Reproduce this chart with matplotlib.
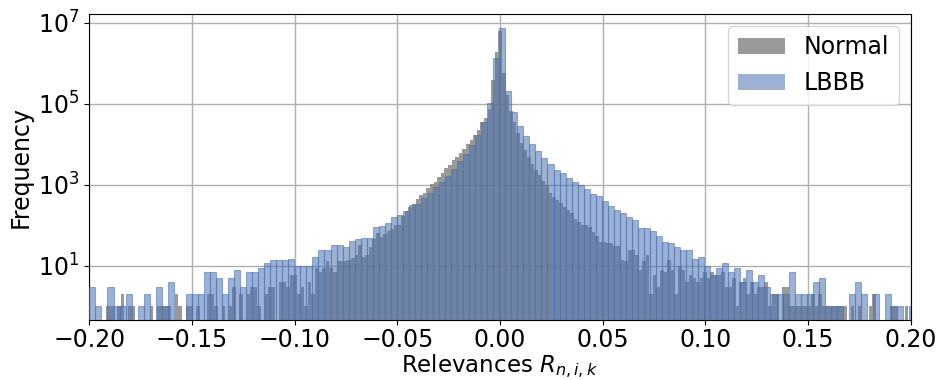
import numpy as np
import matplotlib
matplotlib.use("Agg")
import matplotlib.pyplot as plt

# bin layout: Normal uses narrower bins than LBBB
normal_start, normal_width = -0.2003, 0.00175
lbbb_start, lbbb_width = -0.19985, 0.002934

normal_counts = [
    0, 0, 0, 0, 0, 1, 1, 0, 1, 2, 0, 1, 1, 0, 0, 0, 0, 1, 0, 1,
    1, 1, 1, 0, 2, 1, 0, 1, 1, 0, 1, 0, 0, 2, 2, 1, 0, 1, 0, 1,
    3, 0, 2, 0, 2, 3, 3, 1, 0, 2, 3, 3, 0, 4, 4, 3, 6, 6, 2, 3,
    1, 4, 2, 9, 7, 9, 13, 9, 7, 13, 13, 13, 14, 16, 19, 32, 17, 19, 30, 45,
    66, 51, 62, 73, 80, 103, 103, 170, 230, 290, 340, 445, 565, 645, 830, 1050, 1200, 1550, 1950, 2580,
    3100, 4150, 5000, 6050, 7600, 10000, 12900, 17000, 23000, 35000, 44000, 74000, 390000, 1950000, 6200000,
    580000, 166000, 68000, 35000, 19000, 11000, 7200, 4800, 3300, 2350, 1780, 1230, 1000, 630, 510,
    430, 355, 290, 240, 200, 140, 120, 100, 102, 93, 69, 55, 38, 39, 37, 36, 31, 31, 14, 13,
    25, 25, 19, 8, 13, 18, 2, 6, 3, 8, 7, 14, 8, 2, 10, 8, 4, 6, 5, 4,
    5, 7, 5, 7, 6, 6, 7, 3, 3, 5, 1, 4, 5, 2, 4, 2, 3, 3, 4, 1,
    2, 2, 0, 3, 3, 1, 1, 1, 1, 1, 1, 2, 1, 2, 1, 1, 1, 1, 1, 1,
    1, 0, 1, 0, 1, 0, 0, 1, 2, 0, 0, 0, 0, 1, 1, 0, 0, 1, 0,
]

lbbb_counts = [
    3, 1, 0, 3, 1, 1, 2, 0, 1, 2, 0, 3, 1, 4, 0, 0, 2, 2, 2, 7,
    7, 5, 2, 5, 8, 3, 7, 7, 9, 12, 14, 14, 14, 15, 10, 10, 10, 17, 25, 25,
    33, 33, 29, 41, 46, 49, 49, 90, 97, 113, 160, 180, 228, 322, 340, 487, 645, 910, 1170, 1700,
    2500, 3800, 5800, 9700, 17000, 36000, 105000, 1400000, 7500000, 210000,
    63000, 29000, 16000, 10000, 6900, 4600, 3300, 2300, 2000, 1500, 1180, 1000, 790, 600, 540, 400,
    300, 240, 200, 162, 137, 87, 87, 73, 55, 39, 37, 29, 25, 25, 15, 17, 10, 6, 9, 12,
    7, 9, 4, 8, 4, 6, 3, 2, 2, 2, 7, 2, 2, 2, 4, 5, 1, 1, 1, 0,
    2, 4, 2, 0, 2, 0, 2, 1, 1, 0, 1,
]

normal_edges = normal_start + normal_width * np.arange(len(normal_counts) + 1)
lbbb_edges = lbbb_start + lbbb_width * np.arange(len(lbbb_counts) + 1)

fig, ax = plt.subplots(figsize=(9.38, 3.8), dpi=100)
fig.subplots_adjust(left=0.095, right=0.971, top=0.963, bottom=0.158)

ax.hist(normal_edges[:-1], bins=normal_edges, weights=normal_counts,
        color='grey', alpha=0.8, zorder=2)
ax.hist(lbbb_edges[:-1], bins=lbbb_edges, weights=lbbb_counts,
        color='#4c72b0', alpha=0.55, edgecolor='#4c72b0',
        linewidth=0.8, zorder=3)

ax.set_yscale('log')
ax.set_xlim(-0.2, 0.2)
ax.set_ylim(0.46, 1.66e7)
ax.set_yticks([1e1, 1e3, 1e5, 1e7])
ax.yaxis.set_minor_locator(matplotlib.ticker.NullLocator())
ax.set_xticks(np.arange(-0.2, 0.201, 0.05))


def fmt(v, pos):
    s = '%.2f' % (0.0 if abs(v) < 1e-9 else v)
    return s.replace('-', '\u2212')


ax.xaxis.set_major_formatter(matplotlib.ticker.FuncFormatter(fmt))
ax.grid(True, color='#b0b0b0', linewidth=1.0, zorder=0)
ax.set_axisbelow(True)

ax.tick_params(labelsize=17)
ax.tick_params(axis='x', pad=2.5)
ax.set_xlabel('Relevances $R_{n,i,k}$', fontsize=16.5, labelpad=0)
ax.set_ylabel('Frequency', fontsize=17)

legend_handles = [
    matplotlib.patches.Patch(facecolor='grey', edgecolor='none', alpha=0.8, label='Normal'),
    matplotlib.patches.Patch(facecolor='#4c72b0', edgecolor='none', alpha=0.55, label='LBBB'),
]
ax.legend(handles=legend_handles, loc='upper right', fontsize=17)

fig.savefig('out.png', dpi=100)
